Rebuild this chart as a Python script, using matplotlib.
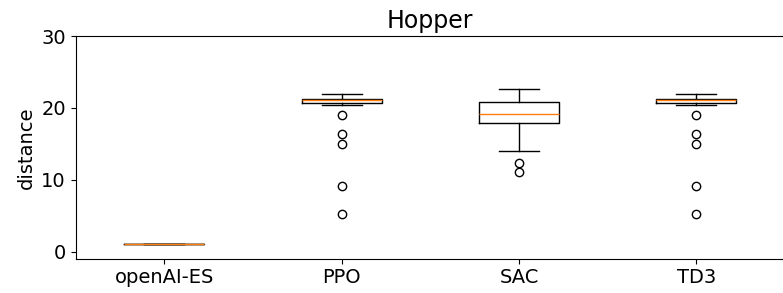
import matplotlib
matplotlib.use("Agg")
import matplotlib.pyplot as plt

categories = ["openAI-ES", "PPO", "SAC", "TD3"]
medians = [1.03, 21.07, 19.22, 21.07]
q1 = [1.03, 20.65, 17.97, 20.65]
q3 = [1.03, 21.30, 20.83, 21.30]
whislo = [1.03, 20.37, 14.08, 20.37]
whishi = [1.03, 21.94, 22.69, 21.94]
fliers = [
    [],
    [18.99, 16.44, 15.05, 9.12, 5.33],
    [12.36, 11.11],
    [18.99, 16.44, 15.05, 9.12, 5.33],
]

stats = []
for i, name in enumerate(categories):
    stats.append(dict(label=name, med=medians[i], q1=q1[i], q3=q3[i],
                      whislo=whislo[i], whishi=whishi[i], fliers=fliers[i]))

fig = plt.figure(figsize=(7.83, 2.93), dpi=100)
ax = fig.add_axes([0.0966, 0.117, 0.9060, 0.760])
ax.bxp(stats, widths=0.45)
ax.set_xlim(0.5, 4.5)
ax.set_ylim(-0.95, 30)
ax.set_yticks([0, 10, 20, 30])
ax.set_title("Hopper", fontsize=17)
ax.set_ylabel("distance", fontsize=14)
ax.tick_params(labelsize=14)
fig.savefig("out.png", dpi=100)
